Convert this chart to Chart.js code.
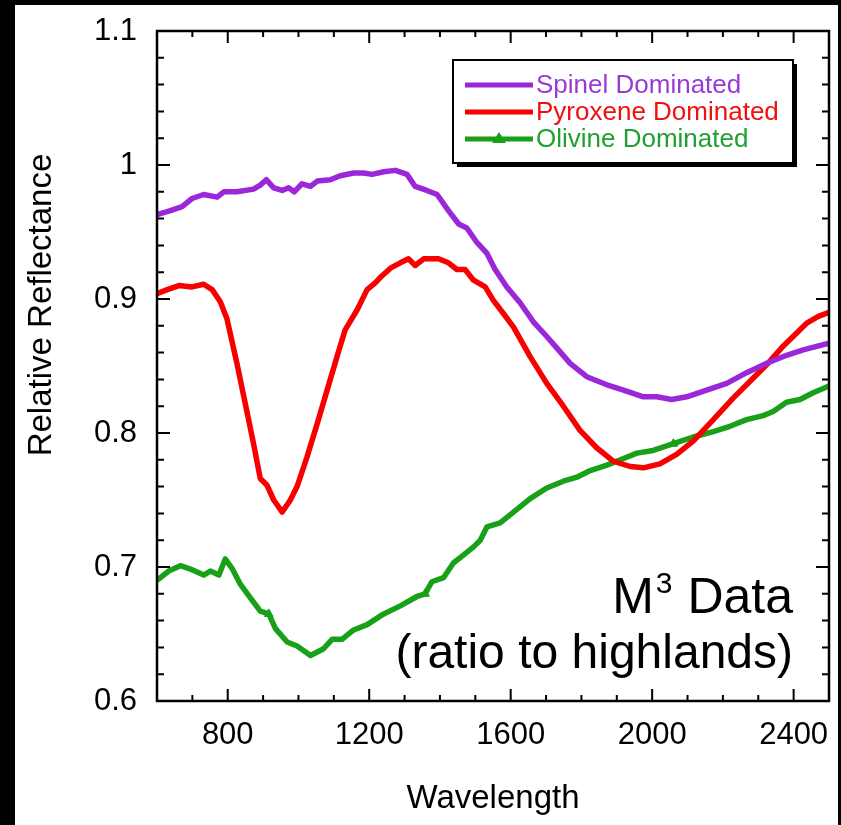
<!DOCTYPE html>
<html lang="en">
<head>
<meta charset="UTF-8" />
<title>M3 Relative Reflectance</title>
<script src="https://cdn.jsdelivr.net/npm/chart.js"></script>
<style>
  html, body { margin: 0; background: #000; width: 841px; height: 825px; overflow: hidden; }
  #wrap { position: absolute; left: 15px; top: 5px; width: 823px; height: 820px; background: #fff; }
</style>
</head>
<body>
<div id="wrap"><canvas id="chart" width="823" height="820"></canvas></div>
<script>
  const FONT = '"Liberation Sans", Arial, Helvetica, sans-serif';

  // tick labels
  const xTickValues = [800, 1200, 1600, 2000, 2400];
  const yTickValues = [0.6, 0.7, 0.8, 0.9, 1, 1.1];

  // Spinel dominated
  const spinelWl = [600, 638, 671, 699, 732, 770, 789, 826, 873, 892, 909, 930, 954, 972, 988, 1010, 1034, 1053, 1090, 1118,
    1156, 1184, 1208, 1241, 1274, 1307, 1330, 1363, 1392, 1424, 1453, 1476, 1505, 1533, 1556, 1589, 1627, 1664, 1702, 1735,
    1768, 1815, 1872, 1919, 1975, 2013, 2055, 2098, 2154, 2211, 2267, 2324, 2380, 2427, 2500];
  const spinelR = [0.963, 0.966, 0.969, 0.975, 0.978, 0.976, 0.980, 0.980, 0.982, 0.985, 0.989, 0.983, 0.981, 0.983, 0.980, 0.986, 0.984, 0.988, 0.989, 0.992,
    0.994, 0.994, 0.993, 0.995, 0.996, 0.993, 0.984, 0.981, 0.978, 0.966, 0.956, 0.953, 0.942, 0.934, 0.922, 0.909, 0.897, 0.883, 0.872, 0.862,
    0.852, 0.842, 0.836, 0.832, 0.827, 0.827, 0.825, 0.827, 0.832, 0.837, 0.845, 0.852, 0.858, 0.862, 0.867];

  // Pyroxene dominated
  const pyroxWl = [600, 629, 662, 699, 732, 756, 779, 798, 826, 855, 873, 892, 911, 930, 954, 977, 996, 1024, 1053, 1081,
    1109, 1132, 1166, 1194, 1217, 1231, 1260, 1288, 1311, 1330, 1354, 1396, 1424, 1448, 1471, 1495, 1528, 1551, 1580, 1608,
    1655, 1702, 1749, 1796, 1843, 1890, 1938, 1975, 2022, 2069, 2116, 2173, 2229, 2286, 2324, 2371, 2418, 2437, 2470, 2500];
  const pyroxR = [0.904, 0.907, 0.910, 0.909, 0.911, 0.907, 0.898, 0.885, 0.852, 0.815, 0.792, 0.766, 0.761, 0.750, 0.741, 0.750, 0.760, 0.782, 0.807, 0.832,
    0.857, 0.877, 0.892, 0.907, 0.912, 0.916, 0.923, 0.927, 0.930, 0.925, 0.930, 0.930, 0.927, 0.922, 0.922, 0.914, 0.909, 0.899, 0.889, 0.879,
    0.857, 0.837, 0.820, 0.802, 0.789, 0.779, 0.775, 0.774, 0.777, 0.784, 0.794, 0.810, 0.826, 0.841, 0.851, 0.865, 0.877, 0.882, 0.887, 0.890];

  // Olivine dominated
  const olivWl = [600, 633, 666, 699, 732, 751, 775, 793, 812, 836, 864, 892, 916, 935, 968, 996, 1034, 1071, 1095, 1123,
    1156, 1194, 1241, 1288, 1335, 1358, 1377, 1410, 1438, 1467, 1495, 1514, 1533, 1570, 1608, 1655, 1702, 1749, 1787, 1825,
    1872, 1919, 1957, 2003, 2060, 2116, 2173, 2220, 2267, 2314, 2342, 2380, 2418, 2455, 2500];
  const olivR = [0.690, 0.697, 0.701, 0.698, 0.694, 0.697, 0.694, 0.706, 0.699, 0.687, 0.677, 0.667, 0.665, 0.654, 0.644, 0.641, 0.634, 0.639, 0.646, 0.646,
    0.653, 0.657, 0.665, 0.671, 0.678, 0.680, 0.689, 0.692, 0.703, 0.709, 0.715, 0.720, 0.730, 0.733, 0.741, 0.751, 0.759, 0.764, 0.767, 0.772,
    0.776, 0.781, 0.785, 0.787, 0.792, 0.797, 0.801, 0.805, 0.810, 0.813, 0.816, 0.823, 0.825, 0.830, 0.835];
  const olivMarkers = [916, 1358, 2060];

  const names = ['Spinel Dominated', 'Pyroxene Dominated', 'Olivine Dominated'];
  const colors = ['#9b28d8', '#f80000', '#18a018'];
  const textColors = ['#9a3ad6', '#f01010', '#20a030'];

  const toXY = (wl, r) => wl.map((w, i) => ({ x: w, y: r[i] }));

  // box, inward ticks, legend, annotation and y title
  const decor = {
    id: 'decor',
    afterDatasetsDraw(chart) {
      const { ctx, chartArea: a, scales: { x, y } } = chart;
      ctx.save();
      ctx.strokeStyle = '#000';
      ctx.lineWidth = 2.5;
      ctx.strokeRect(a.left, a.top, a.right - a.left, a.bottom - a.top);

      ctx.lineWidth = 2;
      ctx.beginPath();
      for (let v = 700; v < 2500; v += 100) {
        const px = x.getPixelForValue(v);
        const len = v % 400 === 0 ? 12 : 6;
        ctx.moveTo(px, a.bottom); ctx.lineTo(px, a.bottom - len);
        ctx.moveTo(px, a.top); ctx.lineTo(px, a.top + len);
      }
      for (let i = 31; i < 55; i++) {
        const py = y.getPixelForValue(i / 50);
        const len = i % 5 === 0 ? 13 : 7;
        ctx.moveTo(a.left, py); ctx.lineTo(a.left + len, py);
        ctx.moveTo(a.right, py); ctx.lineTo(a.right - len, py);
      }
      ctx.stroke();

      // legend
      const lx = 438, ly = 55, lw = 340, lh = 103;
      ctx.fillStyle = '#000';
      ctx.fillRect(lx + 4, ly + 4, lw, lh);
      ctx.fillStyle = '#fff';
      ctx.fillRect(lx, ly, lw, lh);
      ctx.lineWidth = 2;
      ctx.strokeRect(lx, ly, lw, lh);
      const rows = [80, 107, 134];
      ctx.font = '26px ' + FONT;
      ctx.textBaseline = 'middle';
      ctx.textAlign = 'left';
      rows.forEach((ry, i) => {
        ctx.strokeStyle = colors[i];
        ctx.lineWidth = 5;
        ctx.beginPath();
        ctx.moveTo(450, ry); ctx.lineTo(518, ry);
        ctx.stroke();
        if (i === 2) {
          ctx.fillStyle = colors[i];
          ctx.beginPath();
          ctx.moveTo(484, ry - 7); ctx.lineTo(491, ry + 4); ctx.lineTo(477, ry + 4);
          ctx.closePath(); ctx.fill();
        }
        ctx.fillStyle = textColors[i];
        ctx.fillText(names[i], 521, ry + 1);
      });

      // annotation
      ctx.fillStyle = '#000';
      ctx.textBaseline = 'alphabetic';
      const big = '50px ' + FONT, small = '30px ' + FONT;
      ctx.font = big;
      const wM = ctx.measureText('M').width, wD = ctx.measureText(' Data').width;
      ctx.font = small;
      const w3 = ctx.measureText('3').width + 3;
      const sx = 778 - (wM + w3 + wD);
      ctx.font = big; ctx.fillText('M', sx, 608);
      ctx.font = small; ctx.fillText('3', sx + wM + 2, 588);
      ctx.font = big; ctx.fillText(' Data', sx + wM + w3, 608);
      ctx.textAlign = 'right';
      ctx.font = '48px ' + FONT;
      ctx.fillText('(ratio to highlands)', 778, 663);

      // y axis title
      ctx.translate(27, 300);
      ctx.rotate(-Math.PI / 2);
      ctx.textAlign = 'center';
      ctx.textBaseline = 'middle';
      ctx.font = '33px ' + FONT;
      ctx.fillText('Relative Reflectance', 0, 0);
      ctx.restore();
    }
  };

  new Chart(document.getElementById('chart'), {
    type: 'line',
    data: {
      datasets: [
        { label: names[0], data: toXY(spinelWl, spinelR), borderColor: colors[0], borderWidth: 5.5, pointRadius: 0 },
        { label: names[1], data: toXY(pyroxWl, pyroxR), borderColor: colors[1], borderWidth: 5.5, pointRadius: 0 },
        {
          label: names[2], data: toXY(olivWl, olivR), borderColor: colors[2], borderWidth: 5.5,
          pointStyle: 'triangle', backgroundColor: colors[2],
          pointRadius: c => olivMarkers.includes(olivWl[c.dataIndex]) ? 5 : 0,
          pointBorderWidth: 1
        }
      ]
    },
    options: {
      responsive: false,
      animation: false,
      layout: { padding: { top: 26, right: 9, left: 0, bottom: 0 } },
      elements: { line: { tension: 0, borderJoinStyle: 'round' } },
      plugins: { legend: { display: false }, tooltip: { enabled: false } },
      scales: {
        x: {
          type: 'linear', min: 600, max: 2500,
          afterBuildTicks: s => { s.ticks = xTickValues.map(v => ({ value: v })); },
          afterFit: s => { s.height = 124; s.paddingLeft = 0; s.paddingRight = 0; },
          grid: { display: false, drawTicks: false },
          border: { display: false },
          ticks: { color: '#000', font: { size: 31, family: FONT }, padding: 16, autoSkip: false, maxRotation: 0, callback: v => String(v) },
          title: { display: true, text: 'Wavelength', color: '#000', font: { size: 33, family: FONT }, padding: 6 }
        },
        y: {
          type: 'linear', min: 0.6, max: 1.1,
          afterBuildTicks: s => { s.ticks = yTickValues.map(v => ({ value: v })); },
          afterFit: s => { s.width = 142; s.paddingTop = 0; s.paddingBottom = 0; },
          grid: { display: false, drawTicks: false },
          border: { display: false },
          ticks: { color: '#000', font: { size: 31, family: FONT }, padding: 20, callback: v => String(v) }
        }
      }
    },
    plugins: [decor]
  });
</script>
</body>
</html>
